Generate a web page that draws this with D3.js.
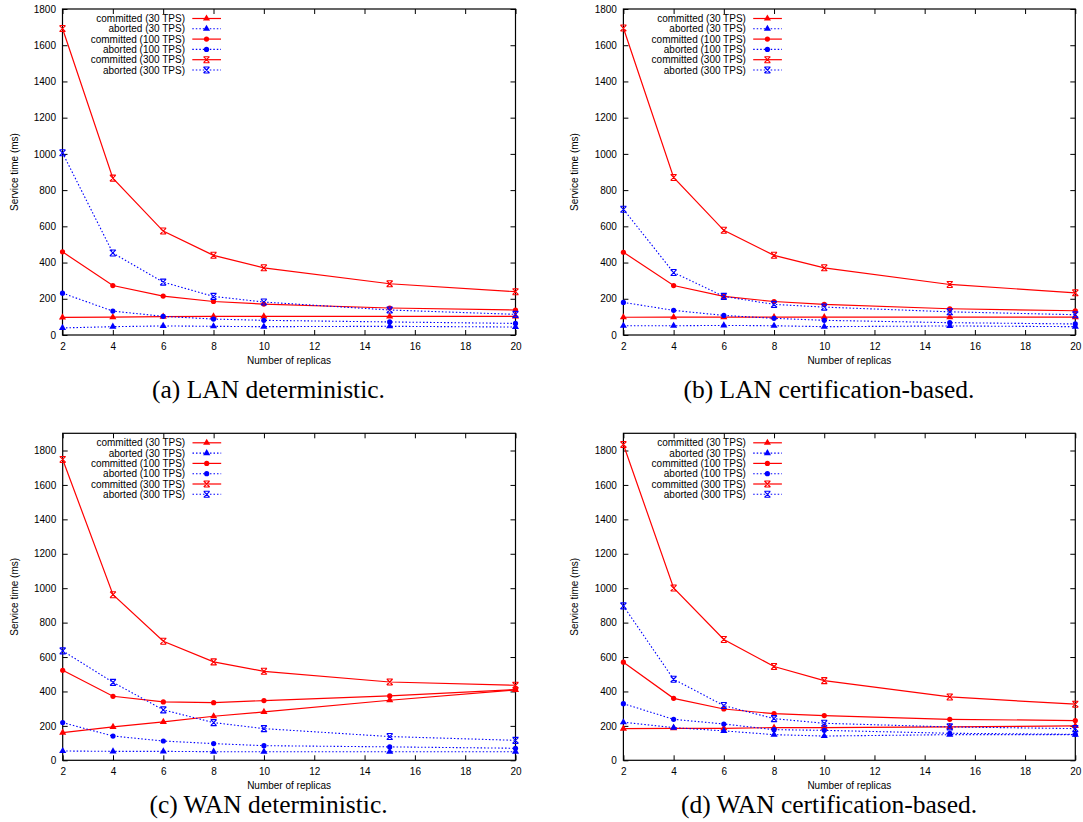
<!DOCTYPE html>
<html><head><meta charset="utf-8">
<script src="https://cdn.jsdelivr.net/npm/d3@7"></script>
<style>body{margin:0;background:#fff}svg{display:block}</style>
</head><body><svg id="chart" width="1083" height="822"></svg>
<script>
// ---- data ----
const replicas = [2, 4, 6, 8, 10, 15, 20];
const xTickValues = [2, 4, 6, 8, 10, 12, 14, 16, 18, 20];
const yTickValues = [0, 200, 400, 600, 800, 1000, 1200, 1400, 1600, 1800];
const seriesNames = ["committed (30 TPS)", "aborted (30 TPS)", "committed (100 TPS)",
                     "aborted (100 TPS)", "committed (300 TPS)", "aborted (300 TPS)"];
const panelTitles = ["(a) LAN deterministic.", "(b) LAN certification-based.",
                     "(c) WAN deterministic.", "(d) WAN certification-based."];
const yMaxValues = [1800, 1800, 1900, 1900];
const xAxisTitle = "Number of replicas";
const yAxisTitle = "Service time (ms)";

// (a) LAN deterministic
const lanDetCommitted30  = [97, 99, 101, 103, 103, 103, 103];
const lanDetAborted30    = [39, 46, 50, 48, 46, 48, 44];
const lanDetCommitted100 = [459, 273, 215, 185, 171, 149, 138];
const lanDetAborted100   = [231, 132, 103, 88, 81, 72, 64];
const lanDetCommitted300 = [1692, 866, 574, 440, 371, 283, 239];
const lanDetAborted300   = [1006, 453, 292, 213, 182, 138, 114];
// (b) LAN certification-based
const lanCertCommitted30  = [98, 99, 99, 99, 99, 99, 99];
const lanCertAborted30    = [51, 51, 53, 51, 46, 50, 46];
const lanCertCommitted100 = [457, 273, 213, 185, 169, 145, 134];
const lanCertAborted100   = [180, 136, 108, 92, 81, 68, 61];
const lanCertCommitted300 = [1695, 870, 578, 440, 371, 279, 233];
const lanCertAborted300   = [694, 345, 213, 169, 154, 128, 112];
// (c) WAN deterministic
const wanDetCommitted30  = [161, 194, 223, 256, 281, 349, 409];
const wanDetAborted30    = [54, 52, 52, 50, 50, 50, 50];
const wanDetCommitted100 = [523, 372, 339, 335, 347, 374, 411];
const wanDetAborted100   = [219, 141, 112, 97, 85, 78, 70];
const wanDetCommitted300 = [1748, 962, 692, 572, 517, 455, 436];
const wanDetAborted300   = [636, 453, 293, 219, 184, 138, 116];
// (d) WAN certification-based
const wanCertCommitted30  = [184, 186, 186, 190, 190, 194, 200];
const wanCertAborted30    = [221, 190, 171, 149, 141, 149, 149];
const wanCertCommitted100 = [570, 360, 298, 271, 260, 238, 231];
const wanCertAborted100   = [329, 238, 211, 178, 174, 157, 151];
const wanCertCommitted300 = [1835, 1001, 702, 545, 463, 368, 326];
const wanCertAborted300   = [897, 471, 318, 242, 215, 194, 184];

const panelSeries = [
  [lanDetCommitted30, lanDetAborted30, lanDetCommitted100, lanDetAborted100, lanDetCommitted300, lanDetAborted300],
  [lanCertCommitted30, lanCertAborted30, lanCertCommitted100, lanCertAborted100, lanCertCommitted300, lanCertAborted300],
  [wanDetCommitted30, wanDetAborted30, wanDetCommitted100, wanDetAborted100, wanDetCommitted300, wanDetAborted300],
  [wanCertCommitted30, wanCertAborted30, wanCertCommitted100, wanCertAborted100, wanCertCommitted300, wanCertAborted300]
];

// ---- layout / style ----
const layouts = [
  {left: 62.5, right: 515.5, top: 9,     bottom: 335,   capX: 268.5, capY: 398},
  {left: 623.4, right: 1075.3, top: 9,   bottom: 335,   capX: 829,   capY: 398},
  {left: 62.7, right: 515.5, top: 433.3, bottom: 760.3, capX: 268.5, capY: 813},
  {left: 623.4, right: 1075.3, top: 433.3, bottom: 760.3, capX: 829, capY: 813}
];
const seriesStyle = [
  {color: "#ff0000", dash: null, marker: "tri"},
  {color: "#0000ff", dash: "1.5,2", marker: "tri"},
  {color: "#ff0000", dash: null, marker: "circ"},
  {color: "#0000ff", dash: "1.5,2", marker: "circ"},
  {color: "#ff0000", dash: null, marker: "star"},
  {color: "#0000ff", dash: "1.5,2", marker: "star"}
];
const sansFont = "'Liberation Sans', Arial, Helvetica, sans-serif";
const serifFont = "'Liberation Serif', 'Times New Roman', serif";
const intFormat = d3.format("d");

const svg = d3.select("#chart");
svg.append("rect").attr("width", 1083).attr("height", 822).attr("fill", "#fff");

function drawMarker(g, kind, cx, cy, color) {
  if (kind === "tri") {
    g.append("path").attr("d", d3.symbol(d3.symbolTriangle, 22)())
      .attr("transform", `translate(${cx},${cy})`).attr("fill", color);
  } else if (kind === "circ") {
    g.append("circle").attr("cx", cx).attr("cy", cy).attr("r", 2.6).attr("fill", color);
  } else {
    const s = 3;
    g.append("path")
      .attr("d", `M${cx-s},${cy-s}L${cx+s},${cy+s}M${cx-s},${cy+s}L${cx+s},${cy-s}M${cx-s},${cy-s}L${cx+s},${cy-s}M${cx-s},${cy+s}L${cx+s},${cy+s}`)
      .attr("stroke", color).attr("stroke-width", 1.1).attr("fill", "none");
  }
}

panelSeries.forEach((seriesList, p) => {
  const L = layouts[p];
  const g = svg.append("g");
  const x = d3.scaleLinear().domain([2, 20]).range([L.left, L.right]);
  const y = d3.scaleLinear().domain([0, yMaxValues[p]]).range([L.bottom, L.top]);

  // axes
  const ax = [
    g.append("g").attr("transform", `translate(0,${L.bottom})`)
      .call(d3.axisBottom(x).tickValues(xTickValues).tickSize(-5).tickPadding(7.4).tickFormat(intFormat)),
    g.append("g").attr("transform", `translate(0,${L.top})`)
      .call(d3.axisTop(x).tickValues(xTickValues).tickSize(-5).tickFormat("")),
    g.append("g").attr("transform", `translate(${L.left},0)`)
      .call(d3.axisLeft(y).tickValues(yTickValues).tickSize(-5).tickPadding(6.5).tickFormat(intFormat)),
    g.append("g").attr("transform", `translate(${L.right},0)`)
      .call(d3.axisRight(y).tickValues(yTickValues).tickSize(-5).tickFormat(""))
  ];
  ax.forEach(a => {
    a.select(".domain").remove();
    a.selectAll(".tick line").attr("stroke", "#000").attr("stroke-width", 1);
    a.selectAll(".tick text").attr("font-family", sansFont).attr("font-size", 10).attr("fill", "#000");
  });
  g.append("rect").attr("x", L.left).attr("y", L.top)
    .attr("width", L.right - L.left).attr("height", L.bottom - L.top)
    .attr("fill", "none").attr("stroke", "#000").attr("stroke-width", 1.2);

  // axis titles
  g.append("text").attr("x", (L.left + L.right) / 2).attr("y", L.bottom + 28.5)
    .attr("text-anchor", "middle").attr("font-family", sansFont).attr("font-size", 10)
    .text(xAxisTitle);
  const yc = (L.top + L.bottom) / 2;
  g.append("text").attr("transform", `translate(${L.left - 48.5},${yc}) rotate(-90)`)
    .attr("text-anchor", "middle").attr("dy", "0.35em")
    .attr("font-family", sansFont).attr("font-size", 10).text(yAxisTitle);

  // caption
  g.append("text").attr("x", L.capX).attr("y", L.capY).attr("text-anchor", "middle")
    .attr("font-family", serifFont).attr("font-size", 25.5).attr("fill", "#000")
    .text(panelTitles[p]);

  // series
  const line = d3.line().x(d => x(d[0])).y(d => y(d[1]));
  seriesList.forEach((vals, i) => {
    const st = seriesStyle[i];
    const pts = replicas.map((r, k) => [r, vals[k]]);
    const sg = g.append("g");
    sg.append("path").attr("d", line(pts)).attr("fill", "none")
      .attr("stroke", st.color).attr("stroke-width", st.dash ? 1.1 : 1.2)
      .attr("stroke-dasharray", st.dash);
    pts.forEach(d => drawMarker(sg, st.marker, x(d[0]), y(d[1]), st.color));
  });

  // legend
  seriesNames.forEach((name, i) => {
    const st = seriesStyle[i];
    const ly = L.top + 9.5 + i * 10.3;
    g.append("text").attr("x", L.left + 122.5).attr("y", ly).attr("dy", "0.35em")
      .attr("text-anchor", "end").attr("font-family", sansFont).attr("font-size", 10)
      .text(name);
    g.append("line").attr("x1", L.left + 129.8).attr("x2", L.left + 158.5)
      .attr("y1", ly).attr("y2", ly).attr("stroke", st.color)
      .attr("stroke-width", st.dash ? 1.1 : 1.2).attr("stroke-dasharray", st.dash);
    drawMarker(g, st.marker, L.left + 144, ly, st.color);
  });
});
</script></body></html>
